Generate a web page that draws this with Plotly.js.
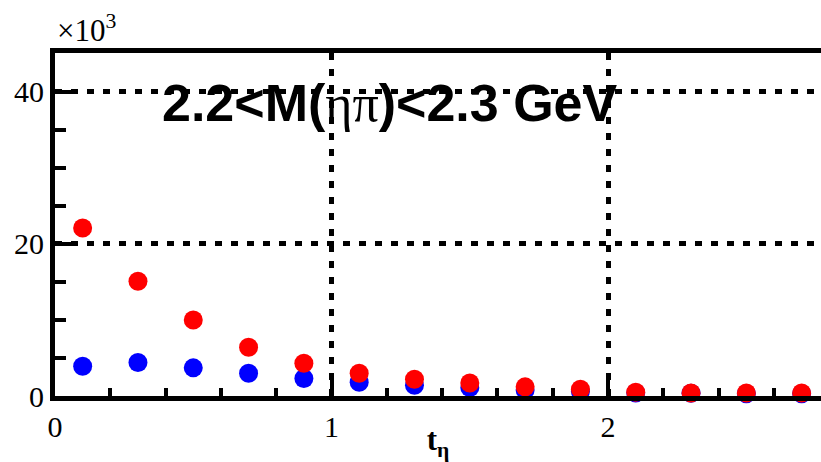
<!DOCTYPE html>
<html><head><meta charset="utf-8">
<script src="https://cdn.plot.ly/plotly-3.0.1.min.js"></script>
<style>html,body{margin:0;padding:0;background:#fff}#chart{width:821px;height:462px}</style>
</head><body><div id="chart"></div>
<script>
const tValues = [0.1,0.3,0.5,0.7,0.9,1.1,1.3,1.5,1.7,1.9,2.1,2.3,2.5,2.7];
const blueCounts = [3900,4400,3700,3000,2300,1800,1400,1100,800,600,400,350,300,300];
const redCounts = [22100,15100,10000,6400,4300,3000,2200,1700,1200,900,500,400,400,400];
const yTickVals = [0,20000,40000];
const yTickText = ['0','20','40'];
const xTickVals = [0,1,2];
const xTickText = ['0','1','2'];

const traces = [
  {x:tValues, y:blueCounts, mode:'markers', type:'scatter', marker:{color:'#0000ff', size:19}, cliponaxis:false},
  {x:tValues, y:redCounts, mode:'markers', type:'scatter', marker:{color:'#ff0000', size:19}, cliponaxis:false}
];
const serif = '"Liberation Serif", "Times New Roman", Times, serif';
const layout = {
  width:821, height:462, showlegend:false,
  paper_bgcolor:'#fff', plot_bgcolor:'#fff',
  font:{family:serif, color:'#000'},
  margin:{l:55, r:0, t:53, b:66},
  xaxis:{range:[0,2.77], tickvals:xTickVals, ticktext:xTickText,
    ticks:'inside', ticklen:18, tickwidth:4, tickcolor:'#000',
    showline:true, linewidth:5, linecolor:'#000', mirror:true,
    showgrid:true, gridcolor:'#000', gridwidth:5, griddash:'7px,9px',
    zeroline:false,
    minor:{dtick:0.2, tick0:0, ticks:'inside', ticklen:8, tickwidth:4, tickcolor:'#000', showgrid:false},
    tickfont:{family:serif, size:30, color:'#000'},
    title:{text:'t<sub>η</sub>', font:{family:serif, size:31, color:'#000', weight:'bold'}, standoff:0}
  },
  yaxis:{range:[0,45100], tickvals:yTickVals, ticktext:yTickText,
    ticks:'inside', ticklen:18, tickwidth:4, tickcolor:'#000',
    showline:true, linewidth:5, linecolor:'#000', mirror:false,
    showgrid:true, gridcolor:'#000', gridwidth:5, griddash:'7px,9px',
    zeroline:false,
    minor:{dtick:5000, tick0:0, ticks:'inside', ticklen:11, tickwidth:4, tickcolor:'#000', showgrid:false},
    tickfont:{family:serif, size:30, color:'#000'}
  },
  annotations:[
    {xref:'paper', yref:'paper', x:0, y:1.0, xanchor:'left', yanchor:'bottom', yshift:3,
     text:'×10<sup>3</sup>', showarrow:false, font:{family:serif, size:31, color:'#000'}},
    {xref:'paper', yref:'paper', x:0.437, y:0.854, xanchor:'center', yanchor:'middle',
     text:'<b>2.2&lt;M(</b><span style="font-family:Liberation Serif">ηπ</span><b>)&lt;2.3 GeV</b>',
     showarrow:false, font:{family:'Liberation Sans, Arial, sans-serif', size:52, color:'#000'}}
  ]
};
Plotly.newPlot('chart', traces, layout, {staticPlot:true, displayModeBar:false});
</script></body></html>
